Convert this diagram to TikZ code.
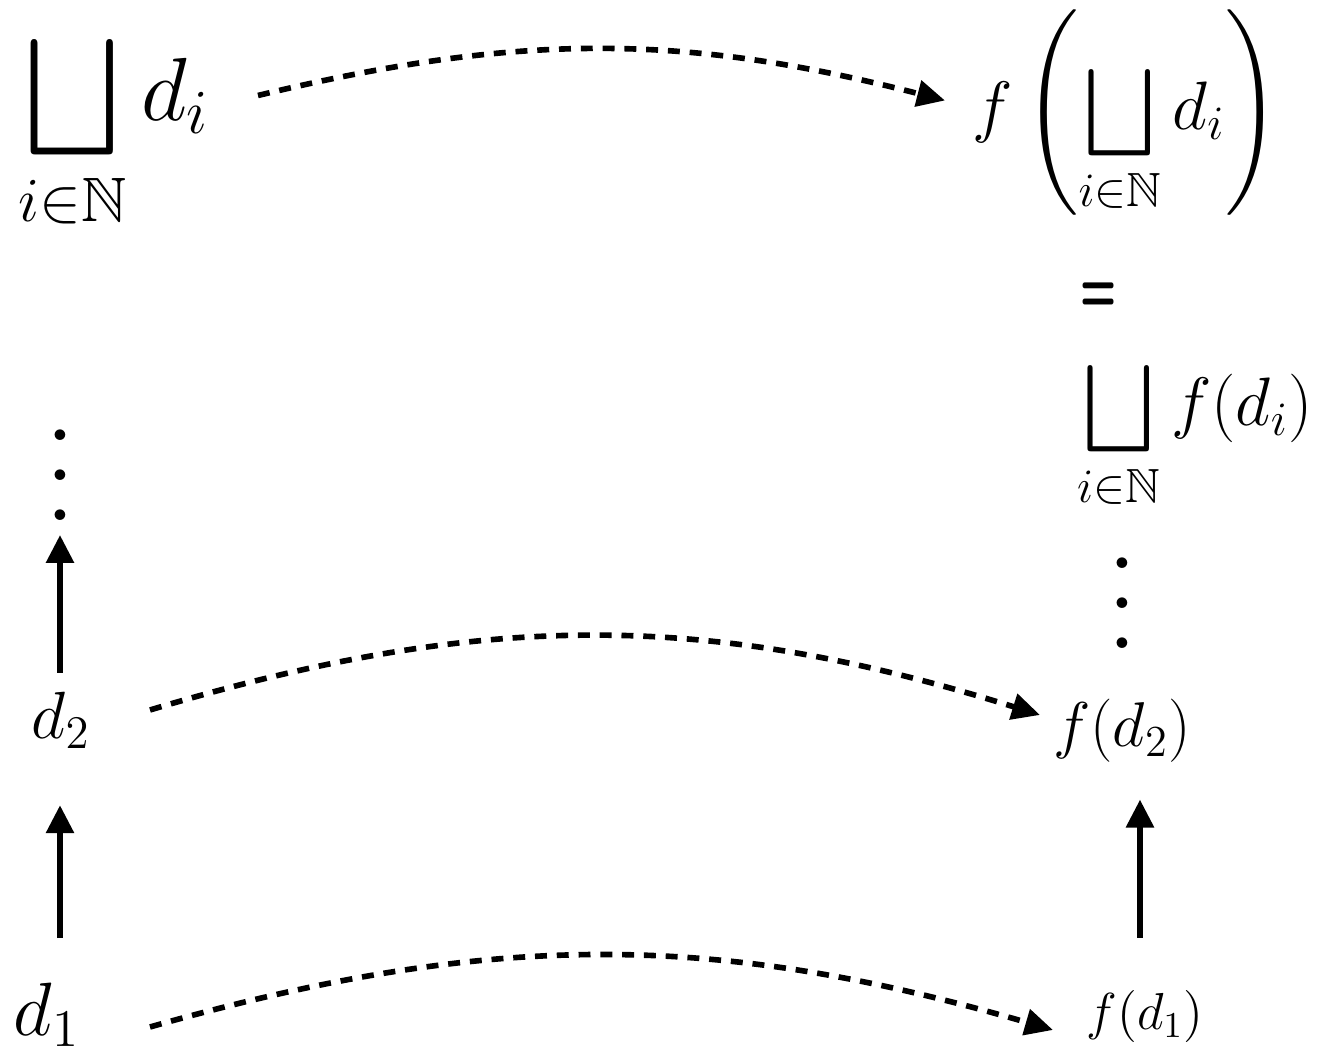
\documentclass[tikz,border=0pt]{standalone}
\usepackage{fix-cm}
\usepackage{amsmath,amssymb}
\usepackage{graphicx}
\usepackage{tikz}
\usetikzlibrary{arrows.meta, positioning, calc}
\newcommand{\fsz}[1]{\fontsize{#1}{#1}\selectfont}
% join operator, scaled against the text around it
\newcommand{\Lub}[1]{\mathop{\vcenter{\hbox{\scalebox{#1}{$\displaystyle\bigsqcup$}}}}\limits}

\begin{document}
\begin{tikzpicture}[
    mathnode/.style={inner sep=0pt, outer sep=0pt},
    dotsnode/.style={inner sep=0pt, outer sep=0pt, anchor=south},
    mapsarr/.style={-{Triangle[length=0.28cm, width=0.26cm]}, line width=1.6pt, dash pattern=on 3.4pt off 2.8pt},
    chainarr/.style={-{Triangle[length=0.28cm, width=0.27cm]}, line width=1.7pt}
]
    \useasboundingbox (0,0) rectangle (13.21,-10.46);

    % Left column
    \node[mathnode] (lubL) at (1.14,-1.325) {\fsz{25.5}$\displaystyle\Lub{0.92}_{i\in\mathbb{N}} d_i$};
    \node[dotsnode] (dotsL) at (0.60,-5.21) {\scalebox{2.85}{\fsz{11}$\vdots$}};
    \node[mathnode] (d2) at (0.61,-7.20) {\fsz{19}$d_2$};
    \node[mathnode] (d1) at (0.47,-10.15) {\fsz{21.5}$d_1$};

    % Right column
    \node[mathnode] (fLub) at (11.26,-1.125) {\fsz{19.5}$f\left(\displaystyle\Lub{0.9}_{i\in\mathbb{N}} d_i\right)$};
    \node[mathnode] (eq) at (10.99,-2.97) {\scalebox{0.6}[1]{\fsz{20}\sffamily\bfseries =}};
    \node[mathnode] (lubR) at (11.95,-4.35) {\fsz{19.5}$\displaystyle\Lub{0.9}_{i\in\mathbb{N}} f(d_i)$};
    \node[dotsnode] (dotsR) at (11.22,-6.49) {\scalebox{2.85}{\fsz{11}$\vdots$}};
    \node[mathnode] (fd2) at (11.22,-7.31) {\fsz{18}$f(d_2)$};
    \node[mathnode] (fd1) at (11.45,-10.17) {\fsz{14.8}$f(d_1)$};

    % Chains
    \draw[chainarr, shorten <=0.45cm, shorten >=0.57cm] (d1.north -| dotsL.south) -- (d2.south -| dotsL.south);
    \draw[chainarr, shorten <=0.19cm, shorten >=0.14cm] (d2.north -| dotsL.south) -- (dotsL.south);
    \draw[chainarr, shorten <=0.53cm, shorten >=0.37cm] ([xshift=-0.05cm]fd1.north) -- ([xshift=-0.05cm]fd1.north |- fd2.south);

    % Mapping by f
    \draw[mapsarr] ($(lubL)+(1.44,0.37)$) to[bend left=14] ($(fLub)+(-1.81,0.12)$);
    \draw[mapsarr] ($(d2)+(0.89,0.10)$) to[bend left=17] ($(fd2)+(-0.82,0.16)$);
    \draw[mapsarr] ($(d1)+(1.03,-0.12)$) to[bend left=16] ($(fd1)+(-0.92,-0.13)$);

\end{tikzpicture}
\end{document}
